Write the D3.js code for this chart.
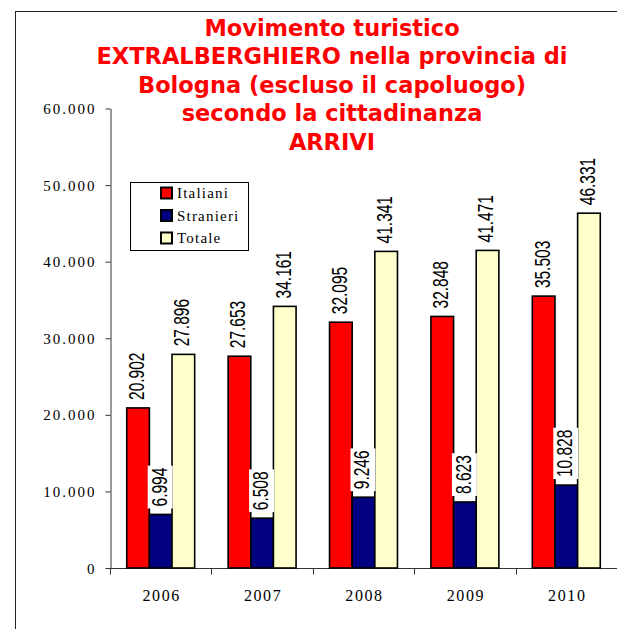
<!DOCTYPE html>
<html>
<head>
<meta charset="utf-8">
<script src="https://cdn.jsdelivr.net/npm/d3@7"></script>
<style>
  html, body { margin: 0; padding: 0; background: #fff; }
  svg { display: block; }
</style>
</head>
<body>
<svg id="chart" width="617" height="629"></svg>
<script>
// ---- data ----
const years = ["2006", "2007", "2008", "2009", "2010"];
const seriesNames = ["Italiani", "Stranieri", "Totale"];
const italiani = [20902, 27653, 32095, 32848, 35503];
const stranieri = [6994, 6508, 9246, 8623, 10828];
const totale = [27896, 34161, 41341, 41471, 46331];
const yTicks = [0, 10000, 20000, 30000, 40000, 50000, 60000];
const titleLines = [
  "Movimento turistico",
  "EXTRALBERGHIERO nella provincia di",
  "Bologna (escluso il capoluogo)",
  "secondo la cittadinanza",
  "ARRIVI"
];
const colors = ["#ff0000", "#000080", "#ffffcc"];

const seriesValues = [italiani, stranieri, totale];
const rows = [];
years.forEach((yr, i) => {
  seriesNames.forEach((s, j) => rows.push({ year: yr, series: s, si: j, value: seriesValues[j][i] }));
});

const fmt = v => v === 0 ? "0" : d3.format(",")(v).replace(/,/g, ".");

const svg = d3.select("#chart");

// outer frame
svg.append("rect")
  .attr("x", 15.5).attr("y", 11.5)
  .attr("width", 700).attr("height", 700)
  .attr("fill", "none").attr("stroke", "#222").attr("stroke-width", 1);

// title
const title = svg.append("text")
  .attr("x", 332)
  .attr("text-anchor", "middle")
  .attr("fill", "#ff0000")
  .attr("font-family", "DejaVu Sans, Verdana, sans-serif")
  .attr("font-weight", "bold")
  .attr("font-size", "22.5px");
titleLines.forEach((t, i) => {
  title.append("tspan").attr("x", 332).attr("y", 36 + i * 28.4).text(t);
});

// scales
const y = d3.scaleLinear().domain([0, 60000]).range([568, 108.5]);
const x0 = d3.scaleBand().domain(years).range([110, 617]).paddingInner(0.33).paddingOuter(0.165);
const x1 = d3.scaleBand().domain(seriesNames).range([0, x0.bandwidth()]);

// y axis
const yAxis = svg.append("g")
  .attr("transform", "translate(110.5,0)")
  .call(d3.axisLeft(y).tickValues(yTicks).tickFormat(fmt).tickSize(5).tickSizeOuter(0));
yAxis.select(".domain").attr("stroke", "#333");
yAxis.selectAll(".tick line").attr("stroke", "#333");
yAxis.selectAll(".tick text")
  .attr("font-family", "Liberation Serif, Times New Roman, serif")
  .attr("font-size", "15px")
  .attr("letter-spacing", "2px")
  .attr("fill", "#000")
  .attr("x", -14)
  .attr("dy", "0.34em");

// x axis line + boundary ticks
const xAxis = svg.append("g").attr("transform", "translate(0,568.5)");
xAxis.append("line").attr("x1", 110).attr("x2", 617).attr("stroke", "#333");
const step = x0.step();
const bounds = d3.range(years.length + 1).map(i => x0(years[0]) - x0.paddingOuter() * step + i * step);
xAxis.selectAll("line.b").data(bounds).join("line")
  .attr("class", "b")
  .attr("x1", d => Math.round(d) + 0.5).attr("x2", d => Math.round(d) + 0.5)
  .attr("y1", 0).attr("y2", 6).attr("stroke", "#333");
xAxis.call(g => {
  const ax = d3.axisBottom(x0).tickSize(0).tickSizeOuter(0);
  const gg = g.append("g").call(ax);
  gg.select(".domain").remove();
  gg.selectAll(".tick text")
    .attr("font-family", "Liberation Serif, Times New Roman, serif")
    .attr("font-size", "16px")
    .attr("letter-spacing", "1.6px")
    .attr("fill", "#000")
    .attr("y", 0)
    .attr("dy", 0)
    .attr("transform", "translate(1,32.5)");
});

// bars
svg.append("g").selectAll("rect").data(rows).join("rect")
  .attr("x", d => x0(d.year) + x1(d.series))
  .attr("y", d => y(d.value))
  .attr("width", x1.bandwidth())
  .attr("height", d => y(0) - y(d.value))
  .attr("fill", d => colors[d.si])
  .attr("stroke", "#000")
  .attr("stroke-width", 1.6);

// data labels
const lab = svg.append("g");
rows.forEach(d => {
  const cx = x0(d.year) + x1(d.series) + x1.bandwidth() / 2 - 2;
  const by = y(d.value) - 8;
  const g = lab.append("g");
  const bg = g.append("rect").attr("fill", "#fff");
  const t = g.append("text")
    .attr("transform", `translate(${cx},${by}) rotate(-90) scale(1,1.42)`)
    .attr("dy", "0.36em")
    .attr("font-family", "Liberation Sans, Arial, sans-serif")
    .attr("font-size", "15.5px")
    .attr("fill", "#000")
    .text(fmt(d.value));
  const len = t.node().getComputedTextLength();
  bg.attr("x", cx - 11).attr("width", 25)
    .attr("y", by - len - 2).attr("height", len + 4);
});

// legend
const lg = svg.append("g");
lg.append("rect").attr("x", 130.5).attr("y", 182.5).attr("width", 118).attr("height", 68)
  .attr("fill", "#fff").attr("stroke", "#000").attr("stroke-width", 1);
seriesNames.forEach((s, i) => {
  const cy = 193 + i * 22.5;
  lg.append("rect").attr("x", 161).attr("y", cy - 5.5).attr("width", 11).attr("height", 11)
    .attr("fill", colors[i]).attr("stroke", "#000").attr("stroke-width", 2);
  lg.append("text").attr("x", 177).attr("y", cy).attr("dy", "0.35em")
    .attr("font-family", "Liberation Serif, Times New Roman, serif")
    .attr("font-size", "15px")
    .attr("letter-spacing", "1.2px")
    .attr("fill", "#000")
    .text(s);
});
</script>
</body>
</html>
